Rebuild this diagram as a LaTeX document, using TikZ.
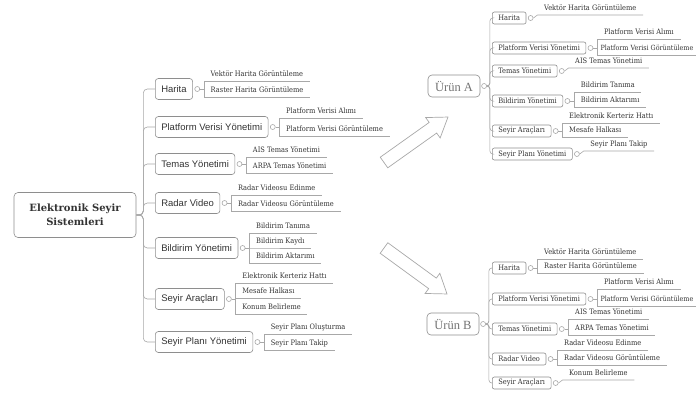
\documentclass[tikz,border=0pt]{standalone}
\usepackage{fontspec}
\setmainfont{DejaVu Serif Condensed}
\newfontfamily\rootfont{DejaVu Serif}
\newfontfamily\sansfont{Liberation Sans}
\newfontfamily\timesfont{Liberation Serif}
\usetikzlibrary{positioning}

\definecolor{linegray}{HTML}{A8A8A8}
\definecolor{boxgray}{HTML}{8E8E8E}
\definecolor{txtgray}{HTML}{333333}

\tikzset{
  link/.style={draw=linegray, line width=0.6pt},
  rootbox/.style={draw=boxgray, line width=0.6pt, rounded corners=4pt, minimum width=122pt, minimum height=45pt, align=center, text=txtgray, font=\rootfont\bfseries\fontsize{10}{14}\selectfont},
  topic/.style={draw=boxgray, line width=0.6pt, rounded corners=3pt, anchor=west, minimum height=21pt, inner xsep=6pt, text=txtgray, font=\sansfont\fontsize{9.5}{11}\selectfont},
  subtopic/.style={draw=boxgray, line width=0.6pt, rounded corners=2pt, anchor=west, minimum height=12pt, inner ysep=0pt, inner xsep=6pt, text=txtgray, font=\fontsize{7.4}{9}\selectfont},
  prodbox/.style={draw=boxgray, line width=0.6pt, rounded corners=4pt, minimum width=52pt, minimum height=22pt, text=black!55, font=\timesfont\fontsize{12.5}{14}\selectfont},
  knob/.style={circle, draw=linegray, line width=0.6pt, fill=white, inner sep=0pt, minimum size=5pt},
  leaf/.style={anchor=south west, xshift=4pt, inner xsep=6.5pt, inner ysep=2.5pt, text height=5.5pt, text depth=1.5pt, text=txtgray, font=\fontsize{7.4}{9}\selectfont},
  edgeleaf/.style={leaf, inner xsep=3pt, font=\fontsize{7.1}{9}\selectfont},
  hollow/.style={draw=linegray, line width=0.7pt, fill=white}
}

\begin{document}
\begin{tikzpicture}[x=1pt, y=-1pt]
    \useasboundingbox (0,0) rectangle (696,392);

    \node[rootbox] (ESS) at (75,215) {Elektronik Seyir\\Sistemleri};

    \node[topic] (H) at (155,89) {Harita};
    \node[topic] (P) at (155,127) {Platform Verisi Yönetimi};
    \node[topic] (T) at (155,164) {Temas Yönetimi};
    \node[topic] (V) at (155,203) {Radar Video};
    \node[topic] (BY) at (155,248) {Bildirim Yönetimi};
    \node[topic] (SA) at (155,299) {Seyir Araçları};
    \node[topic] (SP) at (155,342) {Seyir Planı Yönetimi};

    \foreach \c in {H, P, T, V, BY, SA, SP}
        \draw[link, rounded corners=4pt] (ESS.east) -- ++(7,0) |- (\c.west);

    \node[knob, right=1.5pt of H] (HK) {};
    \node[knob, right=1.5pt of P] (PK) {};
    \node[knob, right=1.5pt of T] (TK) {};
    \node[knob, right=1.5pt of V] (VK) {};
    \node[knob, right=1.5pt of BY] (BYK) {};
    \node[knob, right=1.5pt of SA] (SAK) {};
    \node[knob, right=1.5pt of SP] (SPK) {};

    \node[leaf] (H1) at (HK.east |- 0,81) {Vektör Harita Görüntüleme};
    \node[leaf] (H2) at (HK.east |- 0,97) {Raster Harita Görüntüleme};
    \node[leaf] (P1) at (PK.east |- 0,118) {Platform Verisi Alımı};
    \node[leaf] (P2) at (PK.east |- 0,136) {Platform Verisi Görüntüleme};
    \node[leaf] (T1) at (TK.east |- 0,157) {AIS Temas Yönetimi};
    \node[leaf] (T2) at (TK.east |- 0,173) {ARPA Temas Yönetimi};
    \node[leaf] (V1) at (VK.east |- 0,195) {Radar Videosu Edinme};
    \node[leaf] (V2) at (VK.east |- 0,211) {Radar Videosu Görüntüleme};
    \node[leaf] (BY1) at (BYK.east |- 0,233) {Bildirim Tanıma};
    \node[leaf] (BY2) at (BYK.east |- 0,248) {Bildirim Kaydı};
    \node[leaf] (BY3) at (BYK.east |- 0,263) {Bildirim Aktarımı};
    \node[leaf] (SA1) at (SAK.east |- 0,283) {Elektronik Kerteriz Hattı};
    \node[leaf] (SA2) at (SAK.east |- 0,298) {Mesafe Halkası};
    \node[leaf] (SA3) at (SAK.east |- 0,314) {Konum Belirleme};
    \node[leaf] (SP1) at (SPK.east |- 0,334) {Seyir Planı Oluşturma};
    \node[leaf] (SP2) at (SPK.east |- 0,350) {Seyir Planı Takip};

    \foreach \k/\l in {HK/H1, HK/H2, PK/P1, PK/P2, TK/T1, TK/T2, VK/V1, VK/V2, BYK/BY1, BYK/BY2, BYK/BY3, SAK/SA1, SAK/SA2, SAK/SA3, SPK/SP1, SPK/SP2}
        \draw[link] (\k.east) -- ++(4,0) |- (\l.south west) -- (\l.south east);

    \draw[hollow, shift={(384,162.5)}, rotate=35.4] (0,-6.5) -- (60,-6.5) -- (60,-12.5) -- (78.5,0) -- (60,12.5) -- (60,6.5) -- (0,6.5) -- cycle;
    \draw[hollow, shift={(384,248)}, rotate=-36.1] (0,-6.5) -- (60,-6.5) -- (60,-12.5) -- (78,0) -- (60,12.5) -- (60,6.5) -- (0,6.5) -- cycle;

    % Urun A
    \node[prodbox] (UA) at (454,86) {Ürün A};
    \node[knob, right=1pt of UA] (UAK) {};

    \node[subtopic] (AH) at (492,18) {Harita};
    \node[subtopic] (AP) at (492,48) {Platform Verisi Yönetimi};
    \node[subtopic] (AT) at (492,71) {Temas Yönetimi};
    \node[subtopic] (ABY) at (492,101) {Bildirim Yönetimi};
    \node[subtopic] (ASA) at (492,131) {Seyir Araçları};
    \node[subtopic] (ASP) at (492,154) {Seyir Planı Yönetimi};

    \foreach \c in {AH, AP, AT, ABY, ASA, ASP}
        \draw[link, rounded corners=3pt] (UAK.east) -- ++(3,0) |- (\c.west);

    \node[knob, right=1.5pt of AH] (AHK) {};
    \node[knob, right=1.5pt of AP] (APK) {};
    \node[knob, right=1.5pt of AT] (ATK) {};
    \node[knob, right=1.5pt of ABY] (ABYK) {};
    \node[knob, right=1.5pt of ASA] (ASAK) {};
    \node[knob, right=1.5pt of ASP] (ASPK) {};

    \node[leaf] (AH1) at (AHK.east |- 0,15) {Vektör Harita Görüntüleme};
    \node[leaf] (AP1) at (APK.east |- 0,39) {Platform Verisi Alımı};
    \node[edgeleaf] (AP2) at (APK.east |- 0,55) {Platform Verisi Görüntüleme};
    \node[leaf] (AT1) at (ATK.east |- 0,68) {AIS Temas Yönetimi};
    \node[leaf] (ABY1) at (ABYK.east |- 0,92) {Bildirim Tanıma};
    \node[leaf] (ABY2) at (ABYK.east |- 0,107) {Bildirim Aktarımı};
    \node[leaf] (ASA1) at (ASAK.east |- 0,123) {Elektronik Kerteriz Hattı};
    \node[leaf] (ASA2) at (ASAK.east |- 0,137) {Mesafe Halkası};
    \node[leaf] (ASP1) at (ASPK.east |- 0,151) {Seyir Planı Takip};

    \foreach \k/\l in {APK/AP1, APK/AP2, ABYK/ABY1, ABYK/ABY2, ASAK/ASA1, ASAK/ASA2}
        \draw[link] (\k.east) -- ++(4,0) |- (\l.south west) -- (\l.south east);
    \foreach \k/\l in {AHK/AH1, ATK/AT1, ASPK/ASP1}
        \draw[link] (\k.east) to[out=0, in=180] (\l.south west) -- (\l.south east);

    % Urun B
    \node[prodbox] (UB) at (453,324) {Ürün B};
    \node[knob, right=1pt of UB] (UBK) {};

    \node[subtopic] (BH) at (492,268) {Harita};
    \node[subtopic] (BP) at (492,299) {Platform Verisi Yönetimi};
    \node[subtopic] (BT) at (492,329) {Temas Yönetimi};
    \node[subtopic] (BV) at (492,359) {Radar Video};
    \node[subtopic] (BSA) at (492,383) {Seyir Araçları};

    \foreach \c in {BH, BP, BT, BV, BSA}
        \draw[link, rounded corners=3pt] (UBK.east) -- ++(3,0) |- (\c.west);

    \node[knob, right=1.5pt of BH] (BHK) {};
    \node[knob, right=1.5pt of BP] (BPK) {};
    \node[knob, right=1.5pt of BT] (BTK) {};
    \node[knob, right=1.5pt of BV] (BVK) {};
    \node[knob, right=1.5pt of BSA] (BSAK) {};

    \node[leaf] (BH1) at (BHK.east |- 0,259) {Vektör Harita Görüntüleme};
    \node[leaf] (BH2) at (BHK.east |- 0,273) {Raster Harita Görüntüleme};
    \node[leaf] (BP1) at (BPK.east |- 0,289) {Platform Verisi Alımı};
    \node[edgeleaf] (BP2) at (BPK.east |- 0,306) {Platform Verisi Görüntüleme};
    \node[leaf] (BT1) at (BTK.east |- 0,319) {AIS Temas Yönetimi};
    \node[leaf] (BT2) at (BTK.east |- 0,335) {ARPA Temas Yönetimi};
    \node[leaf] (BV1) at (BVK.east |- 0,350) {Radar Videosu Edinme};
    \node[leaf] (BV2) at (BVK.east |- 0,365) {Radar Videosu Görüntüleme};
    \node[leaf] (BSA1) at (BSAK.east |- 0,380) {Konum Belirleme};

    \foreach \k/\l in {BHK/BH1, BHK/BH2, BPK/BP1, BPK/BP2, BTK/BT1, BTK/BT2, BVK/BV1, BVK/BV2}
        \draw[link] (\k.east) -- ++(4,0) |- (\l.south west) -- (\l.south east);
    \draw[link] (BSAK.east) to[out=0, in=180] (BSA1.south west) -- (BSA1.south east);

\end{tikzpicture}
\end{document}
